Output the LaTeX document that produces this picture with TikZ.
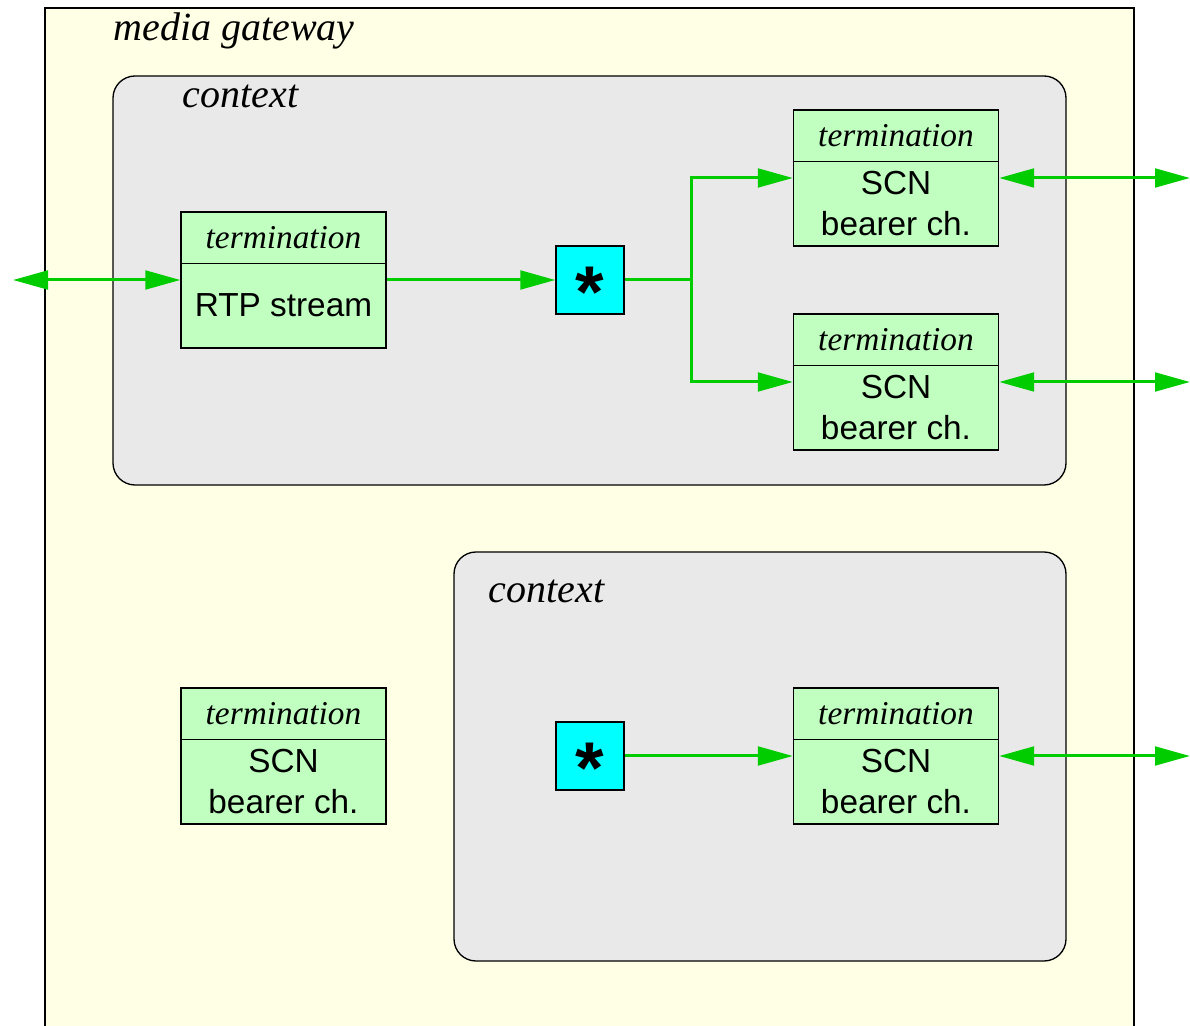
\documentclass[tikz,border=0pt]{standalone}
\usepackage{fontspec}
\setmainfont{Liberation Serif}
\newfontfamily\hvsans{Liberation Sans}
\usetikzlibrary{arrows.meta}
\definecolor{gwfill}{RGB}{255,255,229}
\definecolor{ctxfill}{RGB}{233,233,233}
\definecolor{termfill}{RGB}{192,255,192}
\definecolor{arrgreen}{RGB}{0,204,0}
\definecolor{starfill}{RGB}{0,255,255}
\newcommand\mkterm[4]{%
  \node[termbox] (#1) at (#2,#3) {};
  \draw[thin] ([yshift=-52*0.3pt]#1.north west) -- ([yshift=-52*0.3pt]#1.north east);
  \node[termtitle] (#1t) at ([yshift=-26*0.3pt]#1.north) {termination};
  \node[termbody] (#1b) at ([yshift=-94*0.3pt]#1.north) {#4};
}
\newcommand\starglyph{\raisebox{-3.6pt}[\height][\depth]{*}}
\begin{document}
\begin{tikzpicture}[x=0.3pt,y=-0.3pt,
  termbox/.style={draw=black,line width=0.4pt,fill=termfill,minimum width=205*0.3pt,minimum height=136*0.3pt,inner sep=0pt},
  termtitle/.style={font=\fontsize{10}{12}\selectfont\itshape,inner sep=0pt},
  termbody/.style={font=\hvsans\fontsize{10}{12.3}\selectfont,align=center,inner sep=0pt},
  starbox/.style={draw=black,line width=0.4pt,fill=starfill,minimum width=68*0.3pt,minimum height=68*0.3pt,inner sep=0pt,font=\hvsans\bfseries\fontsize{22}{22}\selectfont},
  ctx/.style={draw=black,line width=0.4pt,fill=ctxfill,rounded corners=6.6pt},
  ctxlabel/.style={font=\fontsize{12}{14}\selectfont\itshape,anchor=base west,inner sep=0pt},
  conn/.style={draw=arrgreen,line width=0.9pt,-{Triangle[length=10.5pt,width=5.6pt]}},
  dconn/.style={draw=arrgreen,line width=0.9pt,{Triangle[length=10.5pt,width=5.6pt]}-{Triangle[length=10.5pt,width=5.6pt]}},
  line/.style={draw=arrgreen,line width=0.9pt}
]
\useasboundingbox (0,0) rectangle (1190,1026);
\clip (0,0) rectangle (1190,1026);
% media gateway
\fill[gwfill] (45,8) rectangle (1134,1040);
\draw[line width=0.45pt] (45,1040) -- (45,8) -- (1134,8) -- (1134,1040);
\node[ctxlabel] (mg) at (113,41) {media gateway};
% context 1
\path[ctx] (113,76) rectangle (1066,485);
\node[ctxlabel] (c1) at (182,108) {context};
% context 2
\path[ctx] (454,552) rectangle (1066,961);
\node[ctxlabel] (c2) at (488,603) {context};
% terminations
\mkterm{rtp}{283.5}{280}{RTP stream}
\mkterm{scnA}{896}{178}{SCN\\bearer ch.}
\mkterm{scnB}{896}{382}{SCN\\bearer ch.}
\mkterm{scnC}{896}{756}{SCN\\bearer ch.}
\mkterm{scnD}{283.5}{756}{SCN\\bearer ch.}
% star boxes
\node[starbox] (s1) at (590,280) {\starglyph};
\node[starbox] (s2) at (590,756) {\starglyph};
% free ends
\coordinate (lft) at (13,280);
\coordinate (rA) at (1190,178);
\coordinate (rB) at (1190,382);
\coordinate (rC) at (1190,756);
\coordinate (j) at (691,280);
% connectors
\draw[dconn] (lft) -- (rtp.west);
\draw[conn] (rtp.east) -- (s1.west);
\draw[line] (s1.east) -- (j);
\draw[conn] (j) |- (scnA.west);
\draw[conn] (j) |- (scnB.west);
\draw[dconn] (scnA.east) -- (rA);
\draw[dconn] (scnB.east) -- (rB);
\draw[conn] (s2.east) -- (scnC.west);
\draw[dconn] (scnC.east) -- (rC);
\end{tikzpicture}
\end{document}
